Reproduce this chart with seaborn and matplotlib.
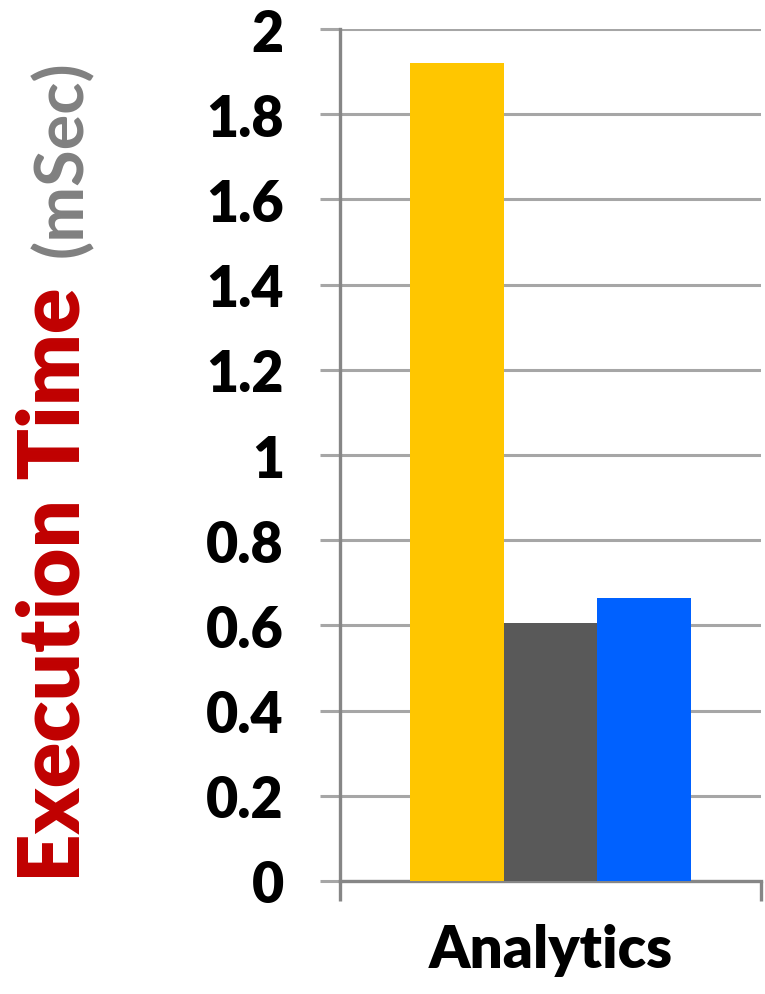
import matplotlib
matplotlib.use("Agg")
import matplotlib.pyplot as plt
import seaborn as sns
import pandas as pd

# Execution time for one analytics workload, three variants
categories = ["Analytics"]
variants = ["Variant A", "Variant B", "Variant C"]
exec_time_ms = [1.92, 0.605, 0.665]
bar_colors = ["#FFC600", "#595959", "#0061FF"]
y_ticks = [0, 0.2, 0.4, 0.6, 0.8, 1, 1.2, 1.4, 1.6, 1.8, 2]
y_tick_labels = ["0", "0.2", "0.4", "0.6", "0.8", "1", "1.2", "1.4", "1.6", "1.8", "2"]

df = pd.DataFrame({
    "category": categories * len(variants),
    "variant": variants,
    "time": exec_time_ms,
})

sns.set_style("white")
plt.rcParams["font.family"] = ["Lato", "DejaVu Sans"]

W, H = 765, 995
fig = plt.figure(figsize=(W / 100, H / 100), dpi=100)
ax = fig.add_axes([340 / W, 1 - 882 / H, (761 - 340) / W, (882 - 30) / H])

sns.barplot(data=df, x="category", y="time", hue="variant",
            palette=bar_colors, width=0.668, saturation=1,
            legend=False, ax=ax, zorder=3)
for p in ax.patches:
    p.set_edgecolor("none")

ax.set_xlim(-0.5, 0.5)
ax.set_ylim(0, 2)
ax.set_yticks(y_ticks, labels=y_tick_labels)

grid_c = "#A6A6A6"
axis_c = "#868686"
ax.yaxis.grid(True, color=grid_c, linewidth=2.2, zorder=0)
ax.set_axisbelow(True)
for s in ["top", "right"]:
    ax.spines[s].set_visible(False)
for s in ["left", "bottom"]:
    ax.spines[s].set_color(axis_c)
    ax.spines[s].set_linewidth(2.4)

ax.tick_params(axis="y", which="major", length=14.4, width=2.2, color=grid_c,
               pad=26, labelsize=40, labelcolor="black", direction="out",
               left=True)
for lab in ax.get_yticklabels():
    lab.set_fontweight("heavy")

# category label in the middle, boundary ticks at the edges
ax.set_xticks([0], labels=categories)
ax.tick_params(axis="x", which="major", length=0, pad=30, labelsize=42,
               labelcolor="black")
for lab in ax.get_xticklabels():
    lab.set_fontweight("heavy")
ax.set_xticks([-0.5, 0.5], minor=True)
ax.tick_params(axis="x", which="minor", length=14.4, width=2.4, color=axis_c,
               direction="out", bottom=True)
ax.set_xlabel("")
ax.set_ylabel("")

# two-coloured rotated axis title
fig.canvas.draw()
renderer = fig.canvas.get_renderer()
t1 = fig.text(55 / W, 1 - 882 / H, "Execution Time", rotation=90,
              color="#C00000", fontsize=61, fontweight="heavy",
              ha="center", va="bottom")
fig.canvas.draw()
bb = t1.get_window_extent(renderer)
top = bb.y1 / H
fig.text(62 / W, top + 30 / H, "(mSec)", rotation=90,
         color="#808080", fontsize=48, fontweight="bold",
         ha="center", va="bottom")

fig.savefig("out.png", dpi=100)
